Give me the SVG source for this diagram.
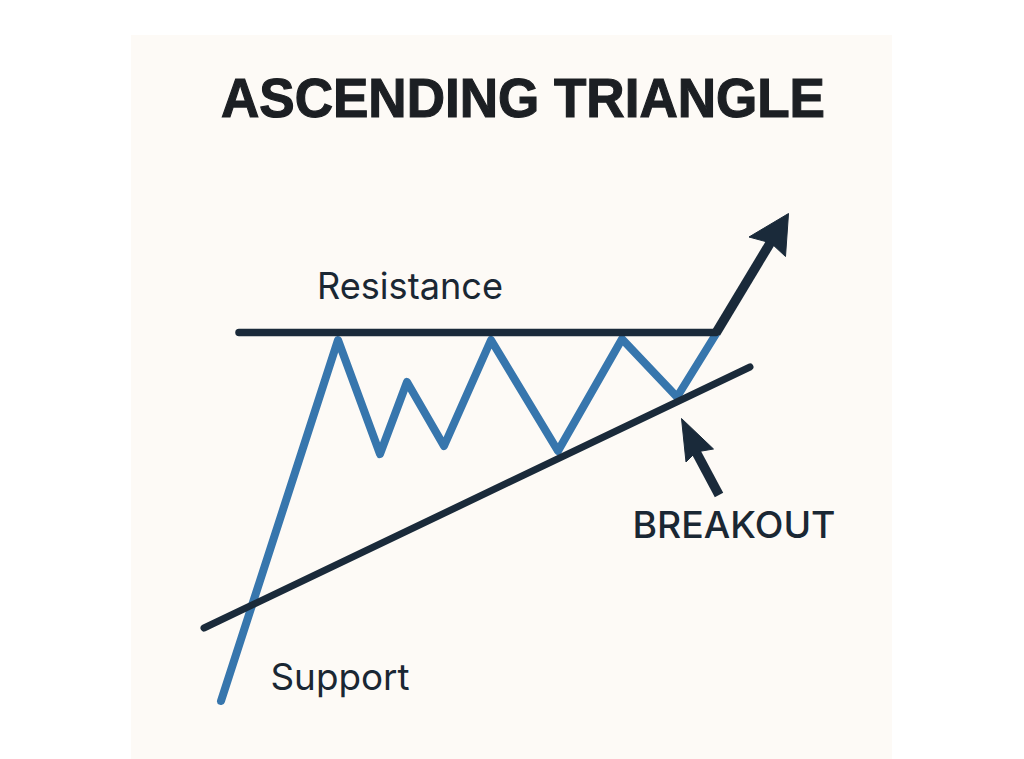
<svg xmlns="http://www.w3.org/2000/svg" width="1024" height="759" viewBox="0 0 1024 759">
<style>
.lab{font-family:Inter,"Liberation Sans",Arial,sans-serif;fill:#1a2733;font-weight:400}
.title{font-family:"Liberation Sans",Arial,sans-serif;fill:#1c1f23;stroke:#1c1f23;stroke-width:1.2;font-weight:700}
.dark{fill:none;stroke:#1a2a3a;stroke-width:7;stroke-linecap:round;stroke-linejoin:round}
.shaft{fill:none;stroke:#1a2a3a;stroke-width:9.5;stroke-linecap:butt}
.blue{fill:none;stroke:#3776ad;stroke-width:8;stroke-linecap:round;stroke-linejoin:round}
.head{fill:#1a2a3a;stroke:#1a2a3a;stroke-width:1;stroke-linejoin:round}
</style>
<rect width="1024" height="759" fill="#ffffff"/>
<rect x="131" y="35" width="761" height="724" fill="#fdfaf6"/>
<text id="title" class="title" x="523" y="117" text-anchor="middle" font-size="56" textLength="604" lengthAdjust="spacingAndGlyphs">ASCENDING TRIANGLE</text>
<g id="connectors">
<path id="price" class="blue" d="M221 701L338 340L380 454L407 382L444 446L491 340L558 451L622 339L677 397L716 334"/>
<path id="breakout-line" class="shaft" d="M716 333L772 240"/>
<polygon class="head" points="788.5,213.5 785.5,256.5 771,243 749,237" />
<path id="resistance-line" class="dark" style="stroke-width:7.5" d="M239 332.500L716 332.500"/>
<path id="support-line" class="dark" d="M204 628L750 367"/>
<path id="breakout-pointer" class="shaft" d="M719 495L695 450"/>
<polygon class="head" points="681.5,418.5 713.500,449 696,452 686,462" />
</g>
<g id="resistance"><text class="lab" x="410" y="299" text-anchor="middle" font-size="37" textLength="186" lengthAdjust="spacingAndGlyphs">Resistance</text></g>
<g id="support"><text class="lab" x="340" y="690" text-anchor="middle" font-size="37" textLength="139" lengthAdjust="spacingAndGlyphs">Support</text></g>
<g id="breakout"><text class="lab" style="font-weight:500" x="734" y="538" text-anchor="middle" font-size="37" textLength="203" lengthAdjust="spacingAndGlyphs">BREAKOUT</text></g>
</svg>
